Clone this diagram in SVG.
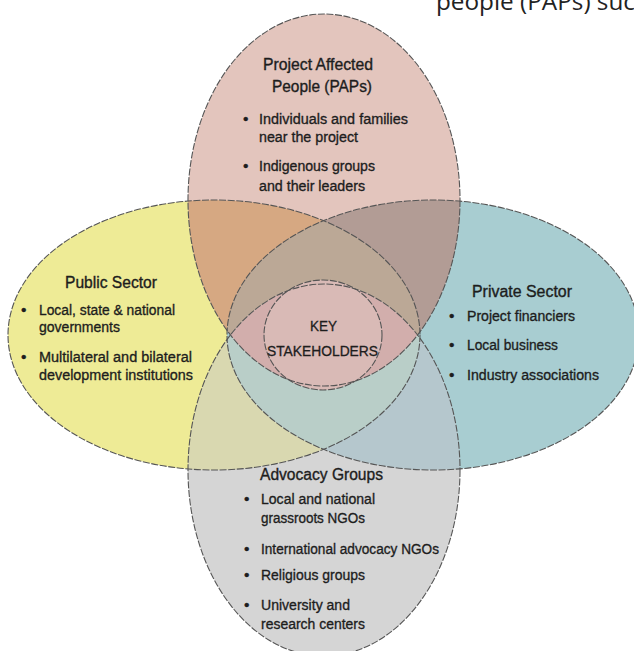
<svg xmlns="http://www.w3.org/2000/svg" width="634" height="651" viewBox="0 0 634 651">
<style>
.edge{fill:none;stroke:#555;stroke-width:1.1;stroke-dasharray:7 1.6}
.t{font-family:"Liberation Sans",Arial,sans-serif;font-size:15.5px;fill:#1d1d1d;stroke:#1d1d1d;stroke-width:0.35}
.h{font-family:"Liberation Sans",Arial,sans-serif;font-size:16px;fill:#1d1d1d;stroke:#1d1d1d;stroke-width:0.35}
.b{font-family:"Liberation Sans",Arial,sans-serif;font-size:14px;fill:#1d1d1d;stroke:#1d1d1d;stroke-width:0.3}
.doc{font-family:"Open Sans","Noto Sans",sans-serif;font-size:23px;fill:#222}
</style>
<defs>
<clipPath id="cTop"><ellipse cx="324" cy="200" rx="136" ry="186"/></clipPath>
<clipPath id="cBot"><ellipse cx="324" cy="470" rx="136" ry="186"/></clipPath>
<clipPath id="cLeft"><ellipse cx="214" cy="335" rx="206" ry="135"/></clipPath>
<clipPath id="cRight"><ellipse cx="433" cy="335" rx="206" ry="135"/></clipPath>
</defs>
<rect width="634" height="651" fill="#fff"/>
<text class="doc" x="436" y="10" textLength="199" lengthAdjust="spacingAndGlyphs">people (PAPs) suc</text>

<g id="fills">
<ellipse cx="214" cy="335" rx="206" ry="135" fill="#eeeb96"/>
<ellipse cx="433" cy="335" rx="206" ry="135" fill="#a8cdd1"/>
<ellipse cx="324" cy="200" rx="136" ry="186" fill="#e3c5bd"/>
<ellipse cx="324" cy="470" rx="136" ry="186" fill="#d5d5d5"/>
<g clip-path="url(#cTop)"><ellipse cx="214" cy="335" rx="206" ry="135" fill="#d6a882"/></g>
<g clip-path="url(#cTop)"><ellipse cx="433" cy="335" rx="206" ry="135" fill="#b29c95"/></g>
<g clip-path="url(#cBot)"><ellipse cx="214" cy="335" rx="206" ry="135" fill="#d9d8b0"/></g>
<g clip-path="url(#cBot)"><ellipse cx="433" cy="335" rx="206" ry="135" fill="#b5c7cd"/></g>
<g clip-path="url(#cTop)"><g clip-path="url(#cLeft)"><ellipse cx="433" cy="335" rx="206" ry="135" fill="#bba896"/></g></g>
<g clip-path="url(#cBot)"><g clip-path="url(#cLeft)"><ellipse cx="433" cy="335" rx="206" ry="135" fill="#b9cec8"/></g></g>
<g clip-path="url(#cTop)"><g clip-path="url(#cBot)"><g clip-path="url(#cLeft)"><ellipse cx="433" cy="335" rx="206" ry="135" fill="#d2aeac"/></g></g></g>
<ellipse cx="323" cy="335" rx="59" ry="55" fill="#d9bab6"/>
</g>

<g id="connectors"/>

<g id="project-affected-people">
<ellipse class="edge" cx="324" cy="200" rx="136" ry="186"/>
<text class="h" x="263" y="70" textLength="110" lengthAdjust="spacingAndGlyphs">Project Affected</text>
<text class="h" x="272" y="92" textLength="100" lengthAdjust="spacingAndGlyphs">People (PAPs)</text>
<text class="t" x="243" y="124">•</text>
<text class="t" x="259" y="124" textLength="149" lengthAdjust="spacingAndGlyphs">Individuals and families</text>
<text class="t" x="259" y="142" textLength="99" lengthAdjust="spacingAndGlyphs">near the project</text>
<text class="t" x="243" y="171">•</text>
<text class="t" x="259" y="171" textLength="116" lengthAdjust="spacingAndGlyphs">Indigenous groups</text>
<text class="t" x="259" y="191" textLength="106" lengthAdjust="spacingAndGlyphs">and their leaders</text>
</g>

<g id="public-sector">
<ellipse class="edge" cx="214" cy="335" rx="206" ry="135"/>
<text class="h" x="65" y="288" textLength="92" lengthAdjust="spacingAndGlyphs">Public Sector</text>
<text class="t" x="21" y="315">•</text>
<text class="t" x="39" y="315" textLength="136" lengthAdjust="spacingAndGlyphs">Local, state &amp; national</text>
<text class="t" x="39" y="332" textLength="81" lengthAdjust="spacingAndGlyphs">governments</text>
<text class="t" x="21" y="362">•</text>
<text class="t" x="39" y="362" textLength="153" lengthAdjust="spacingAndGlyphs">Multilateral and bilateral</text>
<text class="t" x="39" y="380" textLength="154" lengthAdjust="spacingAndGlyphs">development institutions</text>
</g>

<g id="private-sector">
<ellipse class="edge" cx="433" cy="335" rx="206" ry="135"/>
<text class="h" x="472" y="297" textLength="100" lengthAdjust="spacingAndGlyphs">Private Sector</text>
<text class="t" x="449" y="321">•</text>
<text class="t" x="467" y="321" textLength="108" lengthAdjust="spacingAndGlyphs">Project financiers</text>
<text class="t" x="449" y="350">•</text>
<text class="t" x="467" y="350" textLength="91" lengthAdjust="spacingAndGlyphs">Local business</text>
<text class="t" x="449" y="380">•</text>
<text class="t" x="467" y="380" textLength="132" lengthAdjust="spacingAndGlyphs">Industry associations</text>
</g>

<g id="advocacy-groups">
<ellipse class="edge" cx="324" cy="470" rx="136" ry="186"/>
<text class="h" x="260" y="480" textLength="123" lengthAdjust="spacingAndGlyphs">Advocacy Groups</text>
<text class="t" x="244" y="504">•</text>
<text class="t" x="261" y="504" textLength="114" lengthAdjust="spacingAndGlyphs">Local and national</text>
<text class="t" x="261" y="523" textLength="104" lengthAdjust="spacingAndGlyphs">grassroots NGOs</text>
<text class="t" x="244" y="554">•</text>
<text class="t" x="261" y="554" textLength="178" lengthAdjust="spacingAndGlyphs">International advocacy NGOs</text>
<text class="t" x="244" y="580">•</text>
<text class="t" x="261" y="580" textLength="104" lengthAdjust="spacingAndGlyphs">Religious groups</text>
<text class="t" x="244" y="610">•</text>
<text class="t" x="261" y="610" textLength="89" lengthAdjust="spacingAndGlyphs">University and</text>
<text class="t" x="261" y="629" textLength="104" lengthAdjust="spacingAndGlyphs">research centers</text>
</g>

<g id="key-stakeholders">
<ellipse class="edge" cx="323" cy="335" rx="59" ry="55"/>
<text class="b" x="323.5" y="331" text-anchor="middle" textLength="27" lengthAdjust="spacingAndGlyphs">KEY</text>
<text class="b" x="322.5" y="356" text-anchor="middle" textLength="111" lengthAdjust="spacingAndGlyphs">STAKEHOLDERS</text>
</g>
</svg>
